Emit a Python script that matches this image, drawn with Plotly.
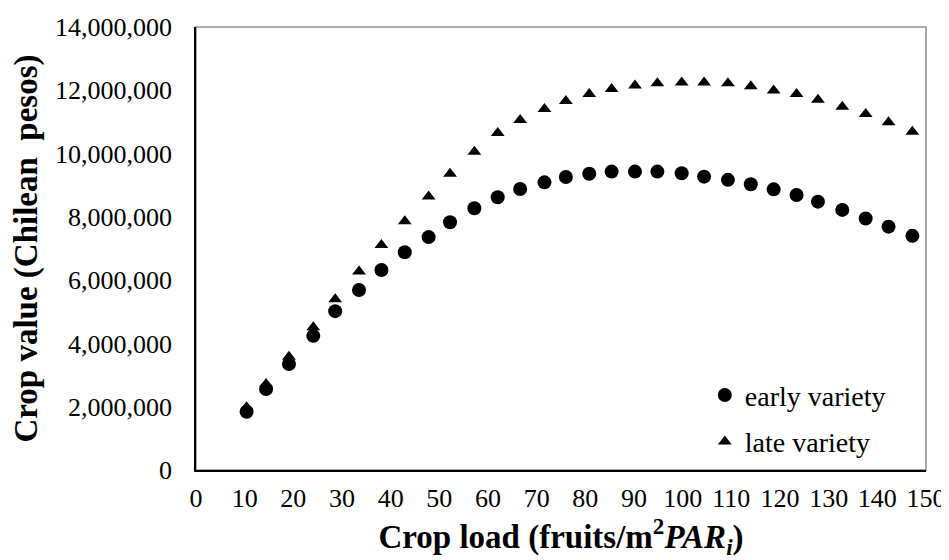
import plotly.graph_objects as go

# Crop load (fruits/m2 PARi)
crop_load = [10.4, 14.4, 19.1, 24.1, 28.6, 33.5, 38.1, 42.9, 47.8, 52.2,
             57.2, 62.0, 66.6, 71.6, 76.0, 80.8, 85.4, 90.2, 94.8, 99.8,
             104.4, 109.3, 114.0, 118.7, 123.4, 127.8, 132.8, 137.6, 142.3, 147.2]

# Crop value (Chilean pesos)
early_variety = [1840000, 2560000, 3350000, 4240000, 5020000, 5690000, 6320000, 6880000, 7360000, 7830000,
                 8270000, 8620000, 8880000, 9090000, 9260000, 9360000, 9430000, 9430000, 9430000, 9380000,
                 9270000, 9170000, 9030000, 8870000, 8690000, 8480000, 8220000, 7950000, 7690000, 7400000]

late_variety = [1980000, 2720000, 3580000, 4510000, 5400000, 6270000, 7110000, 7860000, 8640000, 9360000,
                10060000, 10650000, 11060000, 11410000, 11660000, 11880000, 12040000, 12150000, 12220000, 12250000,
                12250000, 12220000, 12130000, 11990000, 11880000, 11700000, 11480000, 11250000, 10990000, 10690000]

x_ticks = list(range(0, 151, 10))
y_ticks = list(range(0, 14000001, 2000000))

FONT = "Liberation Serif, Times New Roman, serif"

fig = go.Figure()
fig.add_trace(go.Scatter(
    x=crop_load, y=early_variety, mode="markers", name="early variety",
    legendgroup="a",
    marker=dict(symbol="circle", size=14, color="black"),
))
fig.add_trace(go.Scatter(
    x=crop_load, y=late_variety, mode="markers", name="late variety",
    legendgroup="b",
    marker=dict(symbol="triangle-up", size=12, color="black"),
))

# page body has an 8px margin, so the figure is offset by 8px
fig.update_layout(
    width=941, height=552,
    margin=dict(l=188, r=23, t=19, b=90, autoexpand=False),
    paper_bgcolor="white", plot_bgcolor="white",
    font=dict(family=FONT, size=26, color="black"),
    showlegend=True,
    legend=dict(
        x=0.697, y=0.225, xanchor="left", yanchor="top",
        bgcolor="rgba(0,0,0,0)", font=dict(family=FONT, size=28, color="black"),
        tracegroupgap=7, traceorder="grouped",
        itemwidth=30,
    ),
    shapes=[dict(type="rect", xref="paper", yref="paper", x0=0, y0=0, x1=1, y1=1,
                 line=dict(color="#8c8c8c", width=1.5), layer="below")],
)

fig.update_xaxes(
    range=[0, 150], tickvals=x_ticks, ticktext=[str(v) for v in x_ticks],
    showgrid=False, zeroline=False, showline=True, linecolor="black", linewidth=1.5,
    ticks="", ticklabelstandoff=4, automargin=False,
    tickfont=dict(family=FONT, size=26, color="black"),
    title=dict(text="<b>Crop load (fruits/m<sup>2</sup><i>PAR<sub>i</sub></i>)</b>",
               font=dict(family=FONT, size=33, color="black"), standoff=14),
)
fig.update_yaxes(
    range=[0, 14000000], tickvals=y_ticks, tickformat=",d",
    showgrid=False, zeroline=False, showline=True, linecolor="black", linewidth=1.5,
    ticks="", ticklabelstandoff=17, automargin=False,
    tickfont=dict(family=FONT, size=26, color="black"),
    title=dict(text="<b>Crop value (Chilean\u00a0 pesos)</b>",
               font=dict(family=FONT, size=33, color="black"), standoff=8),
)

fig.write_html("out.html")
